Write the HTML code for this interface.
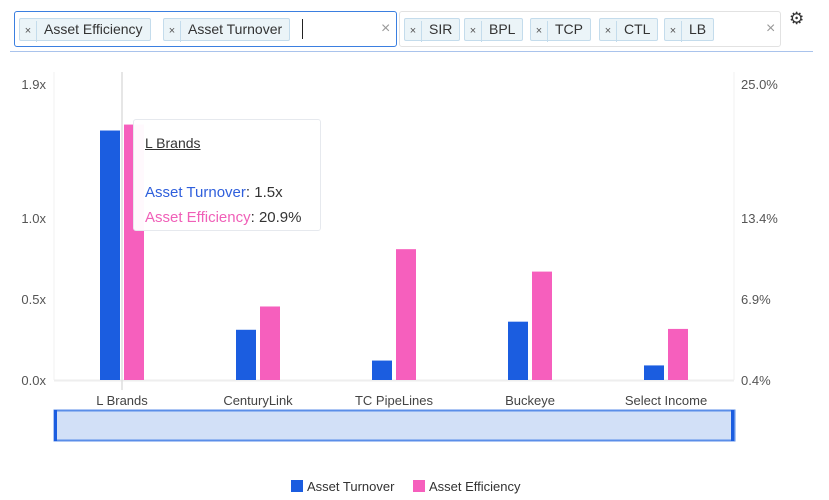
<!DOCTYPE html>
<html><head><meta charset="utf-8"><style>
body{margin:0;width:829px;height:500px;background:#fff;font-family:"Liberation Sans",sans-serif;position:relative;overflow:hidden;color:#333}
.box{position:absolute;top:11px;height:36px;border:1px solid #e2e2e2;border-radius:3px;box-sizing:border-box;background:#fff}
.tag{position:absolute;top:6px;height:23px;border:1px solid #c4dcec;background:#ebf4f8;border-radius:2px;box-sizing:border-box;font-size:14px;line-height:21px;color:#333}
.tag .x{display:inline-block;width:16px;text-align:center;border-right:1px solid #c4dcec;font-size:11px;color:#555}
.tag .t{padding:0 7px}
.clr{position:absolute;top:8px;font-size:16px;color:#999}
</style></head><body>
<div class="box" style="left:14px;width:383px;border-color:#3b7fe0">
 <div class="tag" style="left:4px"><span class="x">×</span><span class="t">Asset Efficiency</span></div>
 <div class="tag" style="left:148px"><span class="x">×</span><span class="t">Asset Turnover</span></div>
 <div style="position:absolute;left:287px;top:7px;width:1px;height:20px;background:#222"></div>
 <span class="clr" style="left:366px">×</span>
</div>
<div class="box" style="left:399px;width:382px">
 <div class="tag" style="left:4px"><span class="x">×</span><span class="t">SIR</span></div>
 <div class="tag" style="left:64px"><span class="x">×</span><span class="t">BPL</span></div>
 <div class="tag" style="left:130px"><span class="x">×</span><span class="t">TCP</span></div>
 <div class="tag" style="left:199px"><span class="x">×</span><span class="t">CTL</span></div>
 <div class="tag" style="left:264px"><span class="x">×</span><span class="t">LB</span></div>
 <span class="clr" style="left:366px">×</span>
</div>
<div style="position:absolute;left:789px;top:9px;font-size:17px;color:#333">⚙</div>
<div style="position:absolute;left:10px;top:51px;width:803px;height:1px;background:#a9c3ec"></div>
<svg id="ch" width="829" height="500" style="position:absolute;left:0;top:0"></svg>
<div style="position:absolute;left:133px;top:119px;width:188px;height:112px;background:rgba(255,255,255,.96);border:1px solid #e6e9ee;border-radius:3px;font-size:15px;box-sizing:border-box;padding:11px 0 0 11px;line-height:25px">
 <div style="text-decoration:underline;font-size:14px">L Brands</div><div style="height:24px"></div>
 <div><span style="color:#2f5fdc">Asset Turnover</span>: 1.5x</div>
 <div><span style="color:#f060b8">Asset Efficiency</span>: 20.9%</div>
</div>
<script>
const categories=["L Brands","CenturyLink","TC PipeLines","Buckeye","Select Income"];
const turnover=[1.54,0.31,0.12,0.36,0.09];
const efficiency=[20.9,6.3,10.9,9.1,4.5];
const leftTicks=[0,0.5,1.0,1.827];
const leftLabels=["0.0x","0.5x","1.0x","1.9x"];
const rightTicks=[0.4,6.9,13.4,24.16];
const rightLabels=["0.4%","6.9%","13.4%","25.0%"];
const svg=document.getElementById('ch');const NS="http://www.w3.org/2000/svg";
function mk(t,a,txt){const e=document.createElementNS(NS,t);for(const k in a)e.setAttribute(k,a[k]);if(txt!==undefined)e.textContent=txt;svg.appendChild(e);return e;}
const X0=54,X1=734,Y0=380;
const yL=v=>Y0-v*162, yR=v=>Y0-(v-0.4)*12.46;
const step=(X1-X0)/categories.length, cx=i=>X0+step*(i+0.5);
mk('line',{x1:X0,x2:X0,y1:72,y2:Y0,stroke:'#f0f0f0'});
mk('line',{x1:X1,x2:X1,y1:72,y2:Y0,stroke:'#f0f0f0'});
leftTicks.forEach((v,i)=>{const t=mk('text',{x:46,y:yL(v)+5,'text-anchor':'end','font-size':13,fill:'#555'},leftLabels[i]);});
rightTicks.forEach((v,i)=>{const t=mk('text',{x:741,y:yR(v)+5,'font-size':13,fill:'#555'},rightLabels[i]);});
mk('line',{x1:X0,x2:X1,y1:Y0+0.5,y2:Y0+0.5,stroke:'#eeeeee','stroke-width':2});
const ch=mk('line',{x1:cx(0),x2:cx(0),y1:72,y2:Y0+10,stroke:'#ddd','stroke-width':1.5});

categories.forEach((c,i)=>{
 const b=mk('rect',{x:cx(i)-22,y:yL(turnover[i]),width:20,height:Y0-yL(turnover[i]),fill:'#1b5de0'});
 
 const p=mk('rect',{x:cx(i)+2,y:yR(efficiency[i]),width:20,height:Y0-yR(efficiency[i]),fill:'#f65fbd'});
 
 const t=mk('text',{x:cx(i),y:405,'text-anchor':'middle','font-size':13,fill:'#444'},c);
 
});
const nav=mk('rect',{x:54.5,y:410.5,width:680,height:30,fill:'#d2e0f7',stroke:'#5b8ee8','stroke-width':2});

[54,731].forEach(x=>{const h=mk('rect',{x:x,y:410,width:3,height:31,fill:'#1b5de0'});});
const lg=[["Asset Turnover","#1b5de0",291],["Asset Efficiency","#f65fbd",413]];
lg.forEach(l=>{const r=mk('rect',{x:l[2],y:480,width:12,height:12,fill:l[1]});
 const t=mk('text',{x:l[2]+16,y:491,'font-size':13,fill:'#333'},l[0]);});
</script>
</body></html>
